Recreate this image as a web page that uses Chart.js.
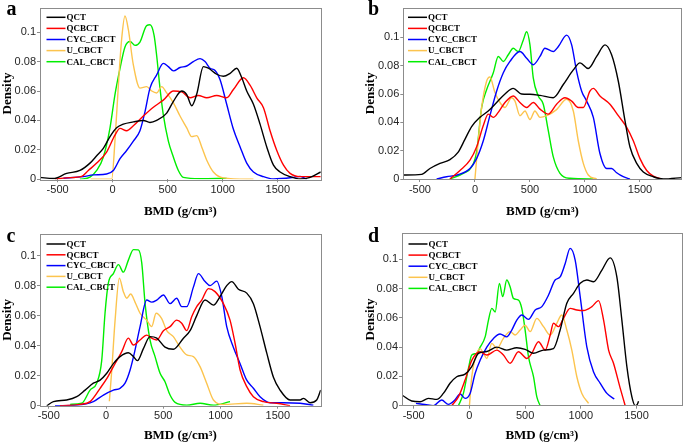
<!DOCTYPE html>
<html>
<head>
<meta charset="utf-8">
<script src="https://cdn.jsdelivr.net/npm/chart.js@4.4.1/dist/chart.umd.min.js"></script>
<style>
html, body { margin: 0; padding: 0; background: #fff; }
#wrap { position: relative; width: 685px; height: 444px; overflow: hidden; }
canvas { position: absolute; }
</style>
</head>
<body>
<div id="wrap">
  <canvas id="ca" width="340" height="220" style="left:0;top:0"></canvas>
  <canvas id="cb" width="322" height="220" style="left:363px;top:0"></canvas>
  <canvas id="cc" width="340" height="224" style="left:0;top:220px"></canvas>
  <canvas id="cd" width="322" height="224" style="left:363px;top:220px"></canvas>
</div>
<script>
// Series / ticks
const seriesNames = ['QCT', 'QCBCT', 'CYC_CBCT', 'U_CBCT', 'CAL_CBCT'];
const seriesColors = ['#000000', '#ff0000', '#0000ff', '#fcc44e', '#00ee00'];
const xTicks = [-500, 0, 500, 1000, 1500];
const yTicks = [0, 0.02, 0.04, 0.06, 0.08, 0.1];

// Panel a  [BMD, density]
const a_QCT = [[-660,0.0013],[-540,0.0005],[-418,0.004],[-297,0.006],[-206,0.011],[-145,0.016],[-85,0.021],[-24,0.029],[36,0.035],[97,0.0375],[188,0.039],[279,0.040],[339,0.0386],[400,0.040],[491,0.045],[552,0.053],[627,0.060],[673,0.0576],[718,0.050],[764,0.058],[824,0.0766],[870,0.0755],[945,0.0714],[1006,0.070],[1067,0.072],[1127,0.0755],[1173,0.069],[1218,0.060],[1279,0.051],[1339,0.0375],[1400,0.022],[1461,0.0096],[1521,0.005],[1612,0.0018],[1703,0.0002],[1794,0.0013],[1891,0.005]];
const a_QCBCT = [[-524,0],[-418,0.001],[-282,0.002],[-221,0.006],[-145,0.011],[-55,0.0185],[21,0.030],[67,0.0346],[127,0.033],[188,0.0364],[279,0.043],[370,0.049],[460,0.0538],[552,0.060],[627,0.0594],[703,0.0554],[779,0.057],[855,0.0554],[945,0.057],[1036,0.0554],[1097,0.061],[1188,0.069],[1248,0.064],[1309,0.0554],[1370,0.0487],[1430,0.033],[1491,0.0196],[1552,0.0096],[1612,0.004],[1703,0.0018],[1891,0.0018]];
const a_CYC = [[-448,0.0007],[-267,0.0018],[-176,0.003],[-55,0.0036],[6,0.006],[67,0.014],[127,0.0196],[188,0.026],[248,0.033],[294,0.046],[339,0.062],[400,0.071],[460,0.0788],[506,0.0766],[552,0.0737],[612,0.076],[673,0.077],[733,0.080],[794,0.082],[839,0.080],[885,0.0755],[930,0.074],[976,0.0676],[1036,0.051],[1097,0.034],[1158,0.022],[1218,0.011],[1279,0.005],[1370,0.0018],[1461,0.0002],[1642,0.0013],[1703,0.002],[1764,0]];
const a_U = [[-200,0],[-9,0],[21,0.026],[52,0.064],[82,0.0955],[112,0.111],[142,0.102],[188,0.0777],[248,0.062],[309,0.063],[355,0.060],[400,0.0587],[445,0.063],[491,0.0587],[552,0.052],[612,0.043],[673,0.035],[718,0.029],[764,0.0297],[809,0.022],[855,0.013],[915,0.005],[1006,0.001],[1279,0]];
const a_CAL = [[-297,0],[-206,0.0015],[-145,0.006],[-85,0.015],[-24,0.035],[21,0.0576],[67,0.0754],[112,0.09],[158,0.0937],[203,0.091],[248,0.0933],[309,0.1045],[339,0.105],[376,0.098],[400,0.084],[430,0.062],[460,0.044],[506,0.026],[552,0.015],[597,0.006],[642,0.0013],[794,0.0004],[1036,0.0006]];

// Panel b
const b_QCT = [[-651,0.0028],[-485,0.0033],[-409,0.0074],[-318,0.011],[-227,0.0137],[-152,0.019],[-91,0.028],[-30,0.037],[45,0.0435],[121,0.048],[197,0.054],[273,0.060],[348,0.064],[424,0.060],[500,0.0598],[591,0.059],[712,0.0574],[803,0.0667],[894,0.077],[955,0.082],[1030,0.078],[1106,0.0865],[1182,0.0947],[1242,0.0877],[1303,0.069],[1364,0.041],[1409,0.0226],[1470,0.011],[1530,0.005],[1621,0.0016],[1712,0],[1879,0.001]];
const b_QCBCT = [[-227,0],[-136,0.006],[-45,0.0133],[15,0.0226],[76,0.0377],[121,0.0458],[167,0.0435],[212,0.047],[273,0.054],[348,0.0586],[409,0.054],[470,0.0505],[530,0.054],[591,0.0493],[667,0.0458],[742,0.0528],[818,0.0574],[879,0.055],[939,0.0505],[985,0.0505],[1045,0.062],[1076,0.064],[1136,0.0586],[1227,0.0528],[1303,0.0447],[1379,0.0365],[1439,0.027],[1500,0.0144],[1561,0.006],[1621,0.002],[1697,0]];
const b_CYC = [[-348,0],[-258,0.0016],[-152,0.003],[-45,0.0074],[15,0.0144],[76,0.027],[136,0.0447],[197,0.062],[258,0.075],[318,0.083],[409,0.090],[470,0.0853],[530,0.0807],[591,0.0865],[636,0.0923],[712,0.090],[758,0.0935],[833,0.1016],[879,0.0947],[924,0.076],[970,0.062],[1015,0.055],[1076,0.0435],[1136,0.018],[1197,0.0074],[1242,0.0074],[1288,0.0044],[1348,0.0016],[1409,0]];
const b_U = [[0,0],[30,0.027],[61,0.0505],[106,0.069],[136,0.072],[182,0.061],[227,0.054],[273,0.0505],[333,0.0574],[364,0.055],[409,0.0447],[455,0.048],[500,0.042],[545,0.048],[591,0.0435],[652,0.0447],[742,0.049],[833,0.0563],[894,0.048],[939,0.027],[985,0.011],[1030,0.0028],[1106,0]];
const b_CAL = [[-227,0],[-106,0.004],[-30,0.0086],[15,0.019],[61,0.0505],[106,0.063],[167,0.075],[212,0.0865],[258,0.083],[303,0.0877],[348,0.0923],[394,0.090],[439,0.098],[470,0.104],[500,0.0947],[530,0.0714],[576,0.0586],[621,0.0528],[667,0.034],[712,0.0156],[773,0.004],[864,0.0005],[1076,0]];

// Panel c
const c_QCT = [[-518,0],[-460,0.0027],[-344,0.0038],[-256,0.006],[-183,0.0104],[-111,0.015],[-52,0.017],[6,0.0216],[64,0.028],[122,0.0327],[195,0.0353],[239,0.0327],[274,0.030],[326,0.038],[384,0.046],[443,0.045],[515,0.039],[588,0.0376],[676,0.045],[734,0.050],[792,0.060],[865,0.0704],[938,0.067],[996,0.0727],[1054,0.080],[1098,0.0827],[1156,0.0776],[1229,0.075],[1287,0.068],[1345,0.0527],[1404,0.035],[1462,0.019],[1520,0.0104],[1607,0.0038],[1695,0.0038],[1724,0.0049],[1782,0.002],[1840,0.0038],[1875,0.0104]];
const c_QCBCT = [[-402,0],[-227,0.0009],[-140,0.0027],[-52,0.0116],[6,0.018],[64,0.026],[137,0.036],[195,0.045],[239,0.0404],[297,0.0438],[355,0.047],[399,0.045],[443,0.0438],[501,0.050],[559,0.0527],[617,0.057],[661,0.055],[705,0.050],[748,0.0593],[792,0.066],[836,0.0704],[894,0.078],[952,0.076],[1025,0.068],[1083,0.057],[1127,0.0416],[1171,0.0238],[1229,0.0127],[1287,0.006],[1374,0.0027],[1491,0.0016],[1607,0]];
const c_CYC = [[-446,0],[-256,0.0004],[-111,0.0027],[-23,0.0071],[64,0.0104],[122,0.0116],[166,0.015],[210,0.0238],[253,0.037],[297,0.0527],[355,0.0704],[399,0.069],[443,0.0704],[501,0.0738],[559,0.068],[617,0.0716],[661,0.066],[705,0.066],[763,0.079],[807,0.088],[865,0.0827],[909,0.080],[967,0.083],[1011,0.0727],[1054,0.0527],[1112,0.039],[1171,0.028],[1229,0.017],[1287,0.0116],[1345,0.006],[1433,0.002],[1549,0.002],[1695,0.0016],[1811,0.0004]];
const c_U = [[29,0.003],[50,0.0238],[79,0.057],[116,0.085],[151,0.076],[181,0.0716],[215,0.0744],[253,0.069],[297,0.0616],[355,0.057],[399,0.0527],[437,0.0616],[486,0.058],[530,0.050],[588,0.046],[646,0.039],[705,0.0338],[763,0.0327],[821,0.026],[879,0.015],[938,0.0038],[1025,0.0009],[1229,0.0016],[1374,0.0004]];
const c_CAL = [[-314,0.0009],[-213,0.0016],[-140,0.0104],[-82,0.015],[-38,0.030],[-9,0.0616],[20,0.0816],[64,0.088],[108,0.094],[151,0.089],[195,0.097],[239,0.104],[282,0.1038],[312,0.095],[341,0.068],[384,0.0438],[428,0.0327],[472,0.0216],[515,0.016],[559,0.0071],[603,0.0022],[705,0.0004],[821,0.0016],[938,0.0004],[1083,0.0027]];

// Panel d
const d_QCT = [[-605,0.0073],[-518,0.0032],[-443,0.0027],[-368,0.005],[-293,0.0043],[-234,0.0084],[-174,0.0153],[-114,0.0198],[-39,0.0216],[21,0.0267],[81,0.0358],[156,0.037],[246,0.040],[335,0.038],[425,0.0396],[500,0.0385],[575,0.0358],[665,0.038],[754,0.039],[814,0.0517],[874,0.070],[934,0.0768],[994,0.0836],[1054,0.0859],[1114,0.0847],[1189,0.0927],[1263,0.101],[1323,0.088],[1368,0.0585],[1413,0.0267],[1458,0.006],[1488,0],[1503,0.0005],[1518,0.003]];
const d_QCBCT = [[-159,0],[-99,0.006],[-39,0.0175],[21,0.031],[96,0.0369],[156,0.0346],[246,0.038],[305,0.0346],[365,0.029],[440,0.0369],[515,0.0323],[560,0.0358],[620,0.0437],[680,0.038],[725,0.0483],[754,0.0563],[799,0.054],[844,0.0597],[904,0.0665],[964,0.0654],[1024,0.065],[1099,0.0677],[1159,0.0718],[1204,0.0585],[1249,0.038],[1293,0.029],[1353,0.012],[1398,0]];
const d_CYC = [[-480,0.0016],[-400,0.0009],[-323,0],[-249,0.0039],[-189,0.0009],[-129,0.004],[-84,0.008],[-39,0.005],[6,0.0084],[51,0.022],[96,0.031],[156,0.040],[216,0.046],[275,0.049],[335,0.047],[380,0.0517],[425,0.0585],[470,0.062],[530,0.059],[590,0.0654],[650,0.0677],[710,0.0756],[769,0.0859],[814,0.088],[859,0.097],[904,0.1075],[949,0.0995],[994,0.0745],[1054,0.040],[1114,0.023],[1174,0.0153],[1234,0.0084],[1300,0.0046]];
const d_U = [[0,0],[21,0.0198],[51,0.0323],[96,0.039],[126,0.0358],[156,0.0323],[201,0.0426],[246,0.039],[305,0.046],[365,0.0506],[410,0.0483],[455,0.0517],[500,0.055],[545,0.0506],[605,0.0597],[665,0.054],[725,0.0483],[784,0.0563],[829,0.062],[874,0.0517],[919,0.038],[964,0.0198],[1009,0.0084],[1069,0.0016]];
const d_CAL = [[-99,0],[-54,0.0084],[-9,0.0255],[21,0.0346],[66,0.0358],[96,0.040],[141,0.047],[171,0.0585],[201,0.0665],[231,0.064],[269,0.0836],[299,0.0745],[335,0.0859],[365,0.0813],[395,0.0733],[440,0.0722],[470,0.0665],[500,0.0517],[530,0.0335],[575,0.0198],[605,0.006],[635,0]];

// Layout of the four panels (canvas coordinates)
const panels = [
    { id: 'ca', letter: 'a', series: [a_QCT, a_QCBCT, a_CYC, a_U, a_CAL], xMin: -660, xMax: 1890, yMax: 0.1167,
      yW: 40, xH: 40.7, padTop: 5, padRight: 19.3, letX: 6.5, letY: 15, legX: 46.5, legY: 17.3, legGap: 11.1 },
    { id: 'cb', letter: 'b', series: [b_QCT, b_QCBCT, b_CYC, b_U, b_CAL], xMin: -651, xMax: 1879, yMax: 0.121,
      yW: 40.3, xH: 41, padTop: 5, padRight: 3.3, letX: 5, letY: 15, legX: 45, legY: 17.3, legGap: 11.1 },
    { id: 'cc', letter: 'c', series: [c_QCT, c_QCBCT, c_CYC, c_U, c_CAL], xMin: -577, xMax: 1875, yMax: 0.1144,
      yW: 40, xH: 38.3, padTop: 14, padRight: 19.3, letX: 6.5, letY: 21.7, legX: 46.5, legY: 24, legGap: 10.8 },
    { id: 'cd', letter: 'd', series: [d_QCT, d_QCBCT, d_CYC, d_U, d_CAL], xMin: -605, xMax: 1905, yMax: 0.1178,
      yW: 39, xH: 38.3, padTop: 13.3, padRight: 3.3, letX: 5, letY: 21.7, legX: 45.5, legY: 24, legGap: 11.1 }
];

const tickFont = { family: '"Liberation Sans", Arial, sans-serif', size: 11 };
const titleFont = { family: '"Liberation Serif", "Times New Roman", serif', size: 13, weight: 'bold' };
const boxColor = '#8c8c8c';

// Box, legend and panel letter
const panelDeco = {
    id: 'panelDeco',
    afterDatasetsDraw(chart, args, opts) {
        const { ctx, chartArea: ca } = chart;
        ctx.save();
        ctx.strokeStyle = boxColor;
        ctx.lineWidth = 1;
        ctx.strokeRect(Math.round(ca.left) + 0.5, Math.round(ca.top) + 0.5,
            Math.round(ca.right - ca.left), Math.round(ca.bottom - ca.top));

        ctx.font = 'bold 9px "Liberation Serif", serif';
        ctx.textBaseline = 'middle';
        ctx.textAlign = 'left';
        chart.data.datasets.forEach((ds, i) => {
            const y = opts.legY + i * opts.legGap;
            ctx.strokeStyle = ds.borderColor;
            ctx.lineWidth = 1.5;
            ctx.beginPath();
            ctx.moveTo(opts.legX, y);
            ctx.lineTo(opts.legX + 19, y);
            ctx.stroke();
            ctx.fillStyle = '#000';
            ctx.fillText(ds.label, opts.legX + 20, y + 0.5);
        });

        ctx.font = 'bold 20px "Liberation Serif", serif';
        ctx.textBaseline = 'alphabetic';
        ctx.fillStyle = '#000';
        ctx.fillText(opts.letter, opts.letX, opts.letY);
        ctx.restore();
    }
};

panels.forEach(p => {
    new Chart(document.getElementById(p.id).getContext('2d'), {
        type: 'line',
        data: {
            datasets: p.series.map((s, i) => ({
                label: seriesNames[i],
                data: s.map(pt => ({ x: pt[0], y: pt[1] })),
                borderColor: seriesColors[i],
                backgroundColor: seriesColors[i],
                borderWidth: 1.4,
                pointRadius: 0,
                tension: 0.4,
                cubicInterpolationMode: 'monotone',
                fill: false
            }))
        },
        options: {
            responsive: false,
            animation: false,
            devicePixelRatio: 1,
            layout: { padding: { top: p.padTop, right: p.padRight, left: 0, bottom: 0 } },
            plugins: {
                legend: { display: false },
                tooltip: { enabled: false },
                panelDeco: p
            },
            scales: {
                x: {
                    type: 'linear',
                    min: p.xMin,
                    max: p.xMax,
                    afterBuildTicks: s => { s.ticks = xTicks.map(v => ({ value: v })); },
                    afterFit: s => { s.height = p.xH; },
                    grid: { drawOnChartArea: false, drawTicks: true, tickLength: 3, color: boxColor },
                    border: { display: false },
                    ticks: {
                        font: tickFont, color: '#262626', padding: 1, autoSkip: false, maxRotation: 0,
                        callback: v => String(v)
                    },
                    title: { display: true, text: 'BMD (g/cm³)', font: titleFont, color: '#000', padding: { top: 0, bottom: 1 } }
                },
                y: {
                    type: 'linear',
                    min: 0,
                    max: p.yMax,
                    afterBuildTicks: s => { s.ticks = yTicks.map(v => ({ value: v })); },
                    afterFit: s => { s.width = p.yW; },
                    grid: { drawOnChartArea: false, drawTicks: true, tickLength: 3, color: boxColor },
                    border: { display: false },
                    ticks: {
                        font: tickFont, color: '#262626', padding: 1, autoSkip: false,
                        callback: v => v === 0 ? '0' : String(+v.toFixed(2))
                    },
                    title: { display: true, text: 'Density', font: titleFont, color: '#000', padding: { top: 0, bottom: 0 } }
                }
            }
        },
        plugins: [panelDeco]
    });
});
</script>
</body>
</html>
